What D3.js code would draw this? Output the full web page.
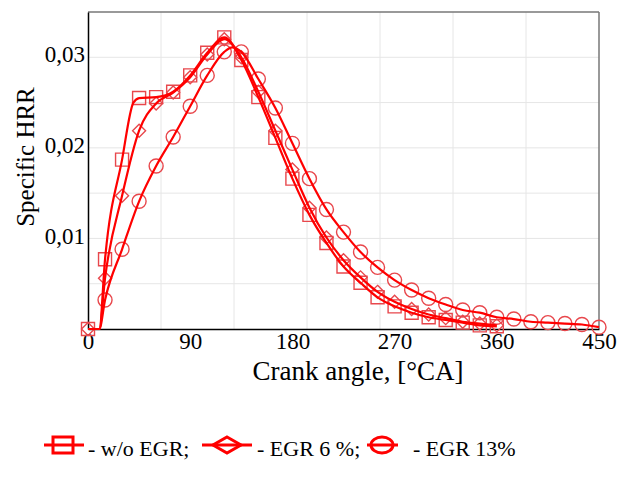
<!DOCTYPE html>
<html>
<head>
<meta charset="utf-8">
<script src="https://cdn.jsdelivr.net/npm/d3@7"></script>
<style>
  body { margin: 0; background: #fff; }
  svg text { font-family: "Liberation Serif", "Times New Roman", serif; fill: #000; }
</style>
</head>
<body>
<div id="chart"></div>
<script>
// ----------------------
// Data
// ----------------------
const angleSq = [0, 10, 15, 30, 40, 45, 60, 75, 90, 105, 120, 135, 150, 165, 180, 195, 210, 225, 240, 255, 270, 285, 300, 315, 330, 345, 360];
const hrrSq   = [0, 0, 0.0077, 0.0187, 0.0250, 0.0255, 0.0256, 0.0262, 0.0280, 0.0305, 0.0322, 0.0297, 0.0256, 0.0211, 0.0166, 0.0126, 0.0095, 0.0069, 0.0051, 0.0035, 0.0025, 0.0018, 0.0013, 0.0010, 0.0007, 0.0004, 0.0003];

const angleDi = [0, 10, 15, 30, 45, 60, 75, 90, 105, 120, 135, 150, 165, 180, 195, 210, 225, 240, 255, 270, 285, 300, 315, 330, 345, 360];
const hrrDi   = [0, 0, 0.0056, 0.0147, 0.0219, 0.0249, 0.0261, 0.0278, 0.0303, 0.0320, 0.0300, 0.0262, 0.0219, 0.0176, 0.0134, 0.0101, 0.0076, 0.0057, 0.0041, 0.0030, 0.0022, 0.0016, 0.0012, 0.0008, 0.0006, 0.0004];

const angleCi = [0, 10, 15, 30, 45, 60, 75, 90, 105, 120, 127, 135, 150, 165, 180, 195, 210, 225, 240, 255, 270, 285, 300, 315, 330, 345, 360, 375, 390, 405, 420, 435, 450];
const hrrCi   = [0, 0, 0.0032, 0.0088, 0.0141, 0.0180, 0.0212, 0.0246, 0.0280, 0.0306, 0.0311, 0.0306, 0.0276, 0.0244, 0.0205, 0.0166, 0.0132, 0.0107, 0.0085, 0.0068, 0.0054, 0.0043, 0.0034, 0.0027, 0.0021, 0.0018, 0.0013, 0.0011, 0.0008, 0.0007, 0.0006, 0.0005, 0.0002];

const xTicks = [0, 90, 180, 270, 360, 450];
const yTicks = [0.01, 0.02, 0.03];
const legendLabels = ["- w/o EGR;", "- EGR 6 %;", "- EGR 13%"];

// ----------------------
// Setup
// ----------------------
const width = 633, height = 480;
const plot = { left: 88, right: 599, top: 12, bottom: 329 };

const svg = d3.select("#chart")
    .append("svg")
    .attr("width", width)
    .attr("height", height);

const x = d3.scaleLinear().domain([0, 450]).range([plot.left, plot.right]);
const y = d3.scaleLinear().domain([0, 0.035]).range([plot.bottom, plot.top]);

// grid: 7 x 7 divisions
const gridG = svg.append("g");
d3.range(1, 7).forEach(i => {
    gridG.append("line")
        .attr("x1", x(450 * i / 7)).attr("x2", x(450 * i / 7))
        .attr("y1", plot.top).attr("y2", plot.bottom)
        .attr("stroke", "#e6e6e6").attr("stroke-width", 1);
    gridG.append("line")
        .attr("x1", plot.left).attr("x2", plot.right)
        .attr("y1", y(0.035 * i / 7)).attr("y2", y(0.035 * i / 7))
        .attr("stroke", "#e6e6e6").attr("stroke-width", 1);
});

// frame: grey top/right, black left/bottom
svg.append("line").attr("x1", plot.left).attr("x2", plot.right).attr("y1", plot.top).attr("y2", plot.top)
    .attr("stroke", "#777").attr("stroke-width", 1.5);
svg.append("line").attr("x1", plot.right).attr("x2", plot.right).attr("y1", plot.top).attr("y2", plot.bottom)
    .attr("stroke", "#777").attr("stroke-width", 1.5);

// axes (labels only, no tick marks)
const xAxis = svg.append("g")
    .attr("transform", `translate(0,${plot.bottom})`)
    .call(d3.axisBottom(x).tickValues(xTicks).tickSize(0).tickPadding(6));
const yAxis = svg.append("g")
    .attr("transform", `translate(${plot.left},0)`)
    .call(d3.axisLeft(y).tickValues(yTicks).tickSize(0).tickPadding(3)
        .tickFormat(d => d3.format(".2f")(d).replace(".", ",")));

[xAxis, yAxis].forEach(a => {
    a.attr("font-family", null).attr("font-size", null);
    a.select(".domain").attr("stroke", "#000").attr("stroke-width", 1.5);
    a.selectAll("text").attr("font-size", 23);
});
yAxis.selectAll("text").attr("dy", "0.2em");
xAxis.selectAll("text").attr("dy", "0.6em");

// axis titles
svg.append("text")
    .attr("x", 358).attr("y", 380)
    .attr("text-anchor", "middle")
    .attr("font-size", 27)
    .text("Crank angle, [°CA]");

svg.append("text")
    .attr("transform", "translate(34,157) rotate(-90)")
    .attr("text-anchor", "middle")
    .attr("font-size", 25)
    .text("Specific HRR");

// ----------------------
// Series
// ----------------------
const lineColor = "#ff0000";
const markColor = "#e8474c";

const series = [
    { angle: angleSq, hrr: hrrSq, shape: "square" },
    { angle: angleDi, hrr: hrrDi, shape: "diamond" },
    { angle: angleCi, hrr: hrrCi, shape: "circle" }
];

const symbolPath = {
    square: "M-6.5,-6.5H6.5V6.5H-6.5Z",
    diamond: "M0,-6.5L6.5,0L0,6.5L-6.5,0Z",
    circle: "M-7,0A7,7 0 1,0 7,0A7,7 0 1,0 -7,0Z"
};

const line = d3.line()
    .x(d => x(d[0]))
    .y(d => y(d[1]))
    .curve(d3.curveMonotoneX);

series.forEach(s => {
    const pts = s.angle.map((a, i) => [a, s.hrr[i]]);
    // markers every 15 degrees
    svg.append("g").selectAll("path")
        .data(pts.filter(p => p[0] % 15 === 0 && !(s.shape === "circle" && p[0] === 0)))
        .enter()
        .append("path")
        .attr("transform", d => `translate(${x(d[0])},${y(d[1])})`)
        .attr("d", symbolPath[s.shape])
        .attr("fill", "none")
        .attr("stroke", markColor)
        .attr("stroke-width", 1.4);
});

series.forEach(s => {
    const pts = s.angle.map((a, i) => [a, s.hrr[i]]);
    svg.append("path")
        .datum(pts)
        .attr("d", line)
        .attr("fill", "none")
        .attr("stroke", lineColor)
        .attr("stroke-width", 2.2);
});

// ----------------------
// Legend
// ----------------------
const legend = [
    { x1: 44, x2: 84, cx: 63, shape: "square", tx: 88 },
    { x1: 202, x2: 252, cx: 227, shape: "diamond", tx: 257 },
    { x1: 367, x2: 398, cx: 382, shape: "circle", tx: 413 }
];
const legY = 445;
const legShape = {
    square: "M-10,-8H10V8H-10Z",
    diamond: "M0,-8L14,0L0,8L-14,0Z",
    circle: "M-11,0A11,8 0 1,0 11,0A11,8 0 1,0 -11,0Z"
};
legend.forEach((l, i) => {
    svg.append("line")
        .attr("x1", l.x1).attr("x2", l.x2).attr("y1", legY).attr("y2", legY)
        .attr("stroke", lineColor).attr("stroke-width", 3);
    svg.append("path")
        .attr("transform", `translate(${l.cx},${legY})`)
        .attr("d", legShape[l.shape])
        .attr("fill", "none")
        .attr("stroke", lineColor)
        .attr("stroke-width", 3);
    svg.append("text")
        .attr("x", l.tx).attr("y", 456)
        .attr("font-size", 22)
        .text(legendLabels[i]);
});
</script>
</body>
</html>
